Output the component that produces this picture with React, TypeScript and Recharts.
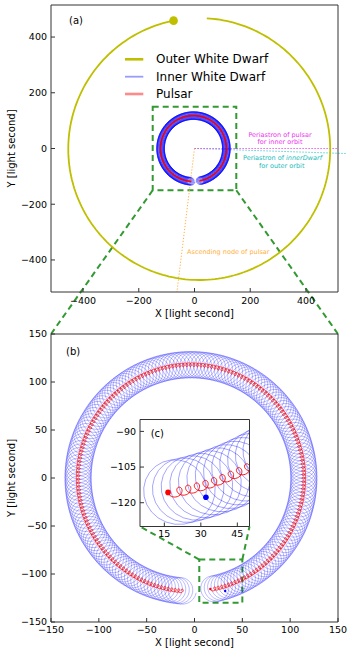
import {
  LineChart,
  Line,
  XAxis,
  YAxis,
  ReferenceLine,
  ReferenceArea,
  ReferenceDot,
} from "recharts";

// all values in light seconds
const innerCentre = [-3.7, 0];
const innerRadius = 118;
const innerSweep = [-79.2, 266]; // deg, start and end of the track
const innerLoops = 192; // inner orbits completed along the track
const loopRadius = [1.9, 13.8]; // pulsar, inner white dwarf, about their barycentre
const loopStart = -7.5; // deg, phase of the inner white dwarf at the start

const outerCentre = [17, -2];
const outerRadius = 470;
const outerSweep = [101.3, 446.7];

const periastronInner = [{ x: 0, y: 0 }, { x: 515, y: 0 }];
const periastronOuter = [{ x: 0, y: 0 }, { x: 542, y: -18 }];
const ascendingNode = [{ x: 0, y: 0 }, { x: -63, y: -515 }];

const domainA = [-515, 515];
const domainB = [-150, 150];
const insetX = [5, 50];
const insetY = [-130, -85];
const ticksA = [-400, -200, 0, 200, 400];
const ticksB = [-150, -100, -50, 0, 50, 100, 150];
const ticksCx = [15, 30, 45];
const ticksCy = [-120, -105, -90];

// colours
const OLIVE = "#bfbf00";
const GREEN = "#339933";
const FRAME = "#333";

// plot boxes on the page (px)
const boxA = { left: 51, top: 5, w: 287, h: 287 };
const boxB = { left: 51, top: 334, w: 287, h: 288 };
const boxC = { left: 140, top: 419.5, w: 109.5, h: 107 };

const rad = (d: number) => (d * Math.PI) / 180;
const STEPS = 24;

function track(body: number) {
  const n = innerLoops * STEPS;
  const pts: { x: number; y: number }[] = [];
  for (let i = 0; i <= n; i++) {
    const f = i / n;
    const a = rad(innerSweep[0] + f * (innerSweep[1] - innerSweep[0]));
    const b = rad(loopStart + (body === 0 ? 180 : 0) + f * innerLoops * 360);
    pts.push({
      x: innerCentre[0] + innerRadius * Math.cos(a) + loopRadius[body] * Math.cos(b),
      y: innerCentre[1] + innerRadius * Math.sin(a) + loopRadius[body] * Math.sin(b),
    });
  }
  return pts;
}

function outerTrack() {
  const pts: { x: number; y: number }[] = [];
  const n = 240;
  for (let i = 0; i <= n; i++) {
    const a = rad(outerSweep[0] + (i / n) * (outerSweep[1] - outerSweep[0]));
    pts.push({
      x: outerCentre[0] + outerRadius * Math.cos(a),
      y: outerCentre[1] + outerRadius * Math.sin(a),
    });
  }
  return pts;
}

const pulsar = track(0);
const innerWD = track(1);
const outerWD = outerTrack();
const pulsarInset = pulsar.slice(0, 30 * STEPS);
const innerInset = innerWD.slice(0, 30 * STEPS);

// pixel -> data of panel (a) / (b), used for the zoom connectors
const toA = (px: number, py: number) => ({
  x: domainA[0] + ((px - boxA.left) / boxA.w) * (domainA[1] - domainA[0]),
  y: domainA[1] - ((py - boxA.top) / boxA.h) * (domainA[1] - domainA[0]),
});
const toB = (px: number, py: number) => ({
  x: domainB[0] + ((px - boxB.left) / boxB.w) * (domainB[1] - domainB[0]),
  y: domainB[1] - ((py - boxB.top) / boxB.h) * (domainB[1] - domainB[0]),
});

const minus = (v: number) => String(v).replace("-", "\u2212");
const tickStyle = { fontSize: 9.5, fill: "#000" };

function axes(dx: number[], dy: number[], tx: number[], ty: number[], xh: number, xm: number) {
  return [
    <XAxis
      key="xb"
      type="number"
      dataKey="x"
      domain={dx}
      ticks={tx}
      interval={0}
      allowDataOverflow
      height={xh}
      tickSize={-4}
      tickMargin={xm}
      tick={tickStyle}
      tickFormatter={minus}
      stroke={FRAME}
    />,
    <XAxis
      key="xt"
      xAxisId="top"
      orientation="top"
      type="number"
      dataKey="x"
      domain={dx}
      ticks={tx}
      interval={0}
      allowDataOverflow
      height={1}
      tickSize={-4}
      tick={false}
      stroke={FRAME}
    />,
    <YAxis
      key="yl"
      type="number"
      dataKey="y"
      domain={dy}
      ticks={ty}
      interval={0}
      allowDataOverflow
      width={40}
      tickSize={-4}
      tickMargin={8}
      tick={tickStyle}
      tickFormatter={minus}
      stroke={FRAME}
    />,
    <YAxis
      key="yr"
      yAxisId="right"
      orientation="right"
      type="number"
      dataKey="y"
      domain={dy}
      ticks={ty}
      interval={0}
      allowDataOverflow
      width={1}
      tickSize={-4}
      tick={false}
      stroke={FRAME}
    />,
  ];
}

const lineBase = {
  dataKey: "y",
  type: "linear" as const,
  dot: false,
  activeDot: false,
  isAnimationActive: false,
  legendType: "none" as const,
};

export default function App() {
  const a1 = toA(boxB.left, boxB.top);
  const a2 = toA(boxB.left + boxB.w, boxB.top);
  const b1 = toB(boxC.left, boxC.top + boxC.h);
  const b2 = toB(boxC.left + boxC.w, boxC.top + boxC.h);

  return (
    <div
      style={{
        position: "absolute",
        left: 0,
        top: 0,
        width: 359,
        height: 656,
        background: "#fff",
        overflow: "hidden",
        fontFamily: "'DejaVu Sans', sans-serif",
      }}
    >
      {/* (a) whole system */}
      <div style={{ position: "absolute", left: 0, top: 0 }}>
        <LineChart width={359} height={340} margin={{ top: 4, right: 20, bottom: 18, left: 11 }}>
          {axes(domainA, domainA, ticksA, ticksA, 30, 9)}
          <ReferenceArea
            x1={-150}
            x2={150}
            y1={-150}
            y2={150}
            fill="none"
            stroke={GREEN}
            strokeWidth={2}
            strokeDasharray="6 4"
            ifOverflow="visible"
          />
          <ReferenceLine segment={[{ x: -150, y: -150 }, a1]} stroke={GREEN} strokeWidth={2} strokeDasharray="6 4" ifOverflow="visible" />
          <ReferenceLine segment={[{ x: 150, y: -150 }, a2]} stroke={GREEN} strokeWidth={2} strokeDasharray="6 4" ifOverflow="visible" />
          <ReferenceLine segment={periastronOuter} stroke="#22cccc" strokeWidth={1} strokeDasharray="1.2 1.8" ifOverflow="visible" />
          <ReferenceLine segment={periastronInner} stroke="#ee33ee" strokeWidth={1} strokeDasharray="1.2 1.8" ifOverflow="visible" />
          <ReferenceLine segment={ascendingNode} stroke="#ffb040" strokeWidth={1} strokeDasharray="1.2 1.8" ifOverflow="visible" />
          <Line {...lineBase} data={outerWD} stroke={OLIVE} strokeWidth={1.8} />
          <Line {...lineBase} data={innerWD} stroke="#0000ff" strokeOpacity={0.5} strokeWidth={1} />
          <Line {...lineBase} data={pulsar} stroke="#ff0000" strokeWidth={1} />
          <ReferenceDot x={outerWD[0].x} y={outerWD[0].y} r={4.3} fill={OLIVE} stroke="none" />
        </LineChart>
      </div>

      {/* (b) inner binary */}
      <div style={{ position: "absolute", left: 0, top: 320 }}>
        <LineChart width={359} height={336} margin={{ top: 13, right: 20, bottom: 4, left: 11 }}>
          {axes(domainB, domainB, ticksB, ticksB, 30, 8.5)}
          <Line {...lineBase} data={innerWD} stroke="#0000ff" strokeOpacity={0.45} strokeWidth={0.6} />
          <Line {...lineBase} data={pulsar} stroke="#ff0000" strokeWidth={0.8} />
          <ReferenceArea
            x1={5}
            x2={50}
            y1={-130}
            y2={-85}
            fill="none"
            stroke={GREEN}
            strokeWidth={2}
            strokeDasharray="6 4"
          />
          <ReferenceLine segment={[{ x: 5, y: -85 }, b1]} stroke={GREEN} strokeWidth={2} strokeDasharray="6 4" ifOverflow="visible" />
          <ReferenceLine segment={[{ x: 50, y: -85 }, b2]} stroke={GREEN} strokeWidth={2} strokeDasharray="6 4" ifOverflow="visible" />
          <ReferenceDot x={pulsar[0].x} y={pulsar[0].y} r={1.2} fill="#ff0000" stroke="none" />
          <ReferenceDot x={innerWD[0].x} y={innerWD[0].y} r={1.2} fill="#0000ff" stroke="none" />
        </LineChart>
      </div>

      {/* (c) start of the track */}
      <div style={{ position: "absolute", left: 100, top: 410 }}>
        <LineChart width={152} height={130} margin={{ top: 8.5, right: 1.5, bottom: 1.5, left: 0 }}>
          {axes(insetX, insetY, ticksCx, ticksCy, 12, 8.2)}
          <Line {...lineBase} data={innerInset} stroke="#0000ff" strokeOpacity={0.45} strokeWidth={0.8} />
          <Line {...lineBase} data={pulsarInset} stroke="#ff0000" strokeWidth={0.9} />
          <ReferenceDot x={pulsar[0].x} y={pulsar[0].y} r={2.8} fill="#ff0000" stroke="none" />
          <ReferenceDot x={innerWD[0].x} y={innerWD[0].y} r={2.8} fill="#0000ff" stroke="none" />
        </LineChart>
      </div>

      {/* texts */}
      <svg
        width={359}
        height={656}
        style={{ position: "absolute", left: 0, top: 0, pointerEvents: "none" }}
      >
        <g fontSize={10} fill="#000" dominantBaseline="central">
          <text x={69} y={20.7}>(a)</text>
          <text x={66} y={351}>(b)</text>
          <text x={150.7} y={433.5}>(c)</text>
          <text x={194.5} y={313.3} textAnchor="middle">X [light second]</text>
          <text x={194.5} y={642.3} textAnchor="middle">X [light second]</text>
          <text x={11} y={148.5} textAnchor="middle" transform="rotate(-90 11 148.5)">Y [light second]</text>
          <text x={11} y={478} textAnchor="middle" transform="rotate(-90 11 478)">Y [light second]</text>
        </g>

        <g fontSize={12} dominantBaseline="central">
          <line x1={125} x2={143.3} y1={59.3} y2={59.3} stroke={OLIVE} strokeWidth={2.6} />
          <text x={156} y={59.3}>Outer White Dwarf</text>
          <line x1={125} x2={143.3} y1={76.7} y2={76.7} stroke="#9a9aff" strokeWidth={1.8} />
          <text x={156} y={76.7}>Inner White Dwarf</text>
          <line x1={125} x2={143.3} y1={94} y2={94} stroke="#ff8a8a" strokeWidth={2.6} />
          <text x={156} y={94}>Pulsar</text>
        </g>

        <g fontSize={6.5} textAnchor="middle" dominantBaseline="central">
          <text x={280} y={135} fill="#ee33ee">Periastron of pulsar</text>
          <text x={280} y={141.7} fill="#ee33ee">for inner orbit</text>
          <text x={282.5} y={158.3} fill="#22bbbb">
            Periastron of <tspan fontStyle="italic">innerDwarf</tspan>
          </text>
          <text x={281.7} y={165.7} fill="#22bbbb">for outer orbit</text>
          <text x={228.3} y={251.7} fill="#ffb040">Ascending node of pulsar</text>
        </g>
      </svg>
    </div>
  );
}
